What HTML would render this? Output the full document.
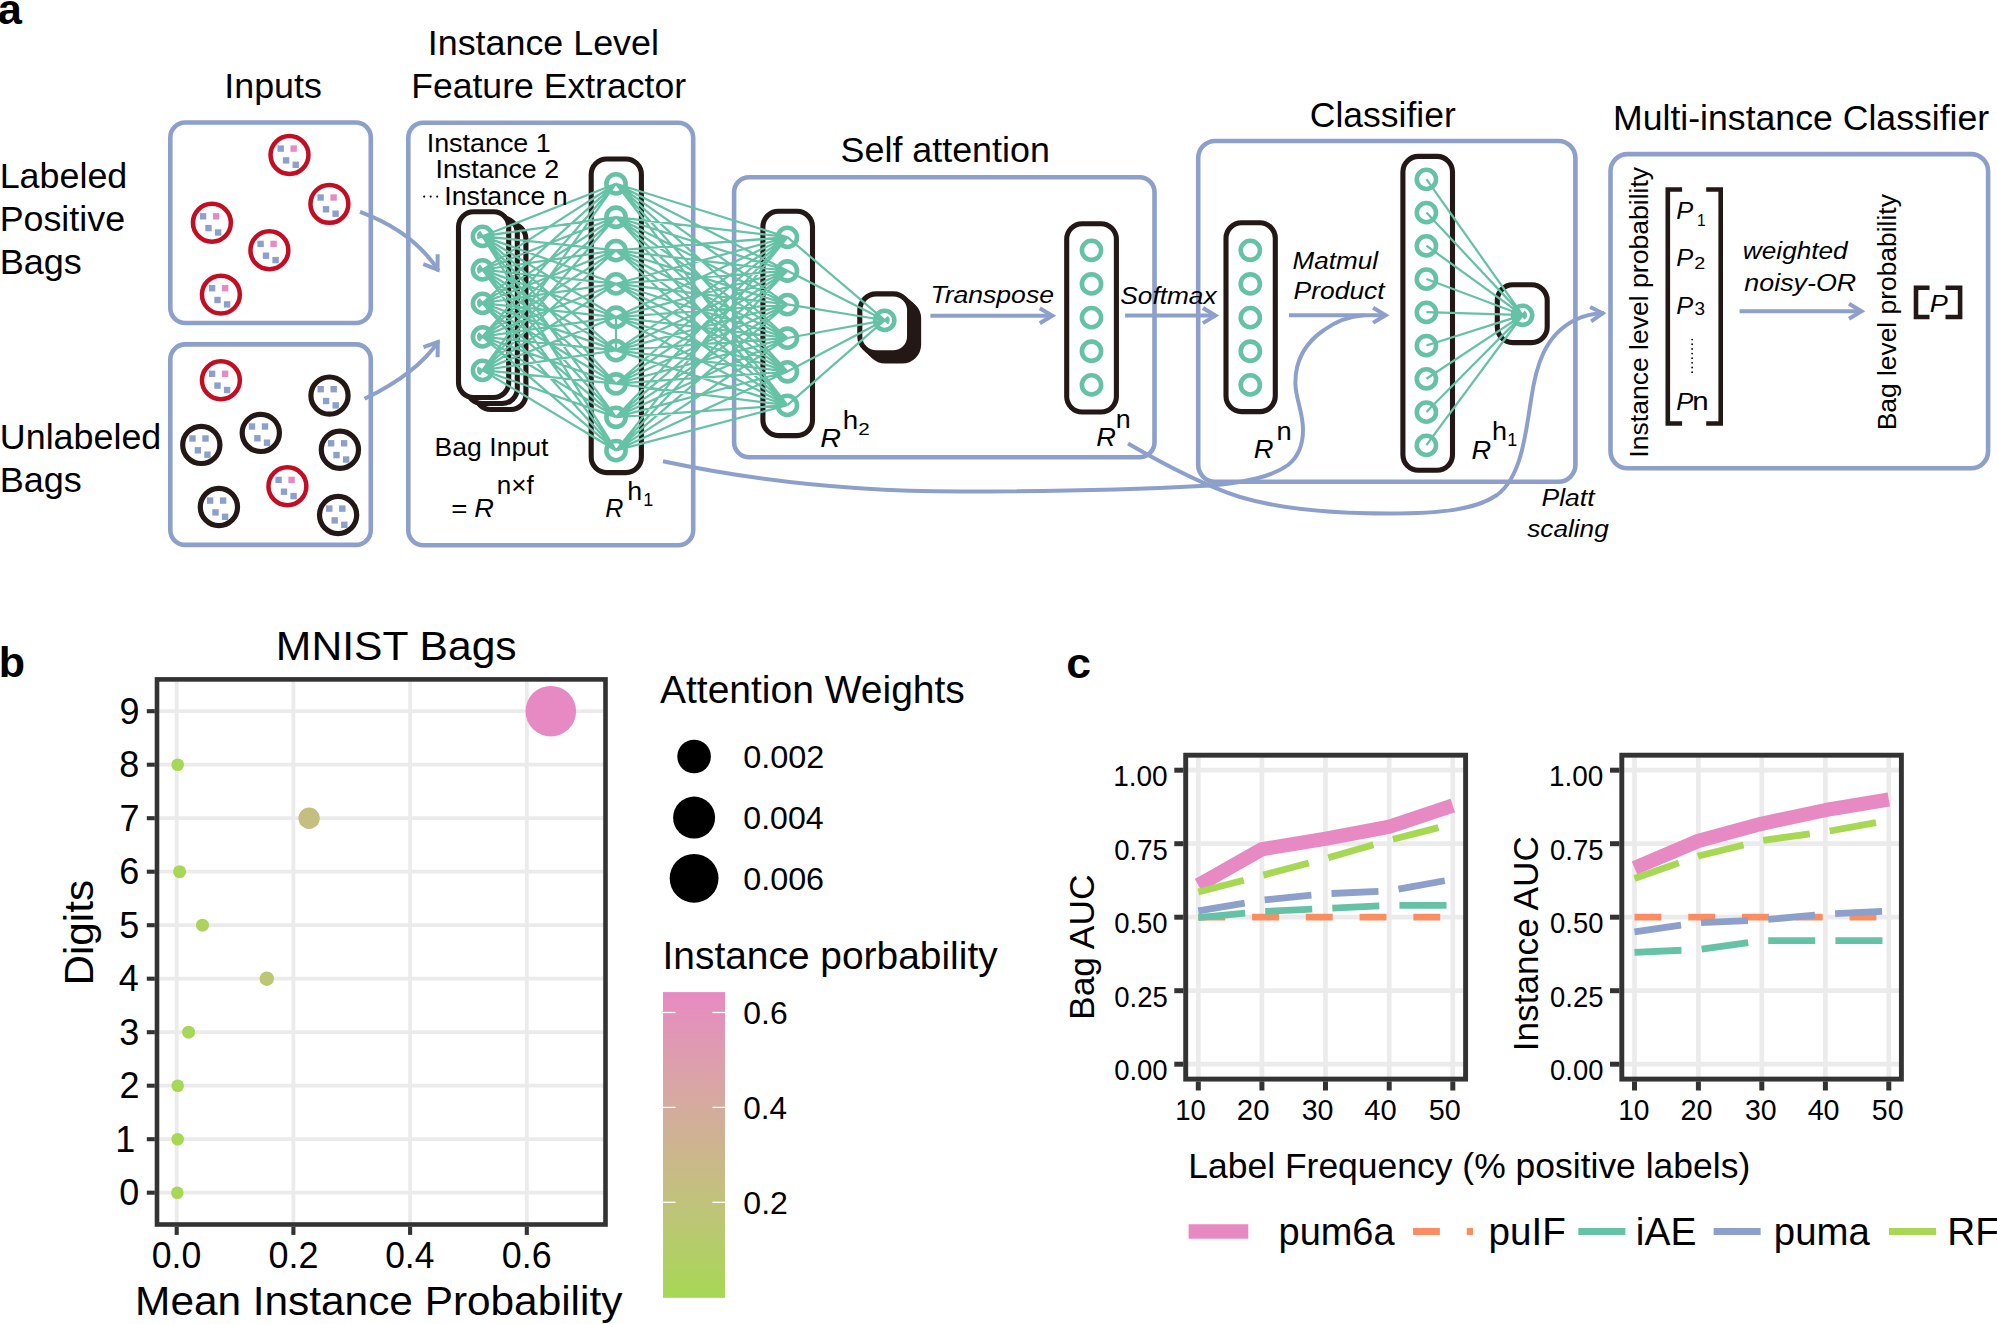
<!DOCTYPE html>
<html lang="en"><head><meta charset="utf-8"><title>Figure</title>
<style>html,body{margin:0;padding:0;background:#fff;overflow:hidden}svg{display:block}svg text{font-family:"Liberation Sans",sans-serif}</style></head>
<body>
<svg width="1997" height="1324" viewBox="0 0 1997 1324" role="img" aria-label="Figure: pum6a model architecture, MNIST bags attention plot and AUC comparison">
<rect width="1997" height="1324" fill="#fff"/>
<g id="panel-a">
<text x="-2.3" y="23.9" font-size="43.4" font-weight="bold" fill="#000">a</text>
<text x="224.29" y="97.8" font-size="34.8" textLength="97.54" lengthAdjust="spacingAndGlyphs" fill="#000">Inputs</text>
<text x="-0.36" y="188" font-size="34.8" textLength="127.66" lengthAdjust="spacingAndGlyphs" fill="#000">Labeled</text>
<text x="-0.36" y="231" font-size="34.8" textLength="125.43" lengthAdjust="spacingAndGlyphs" fill="#000">Positive</text>
<text x="-0.37" y="273.6" font-size="34.8" textLength="82.11" lengthAdjust="spacingAndGlyphs" fill="#000">Bags</text>
<text x="-0.18" y="449.3" font-size="34.8" textLength="161.46" lengthAdjust="spacingAndGlyphs" fill="#000">Unlabeled</text>
<text x="-0.37" y="492.3" font-size="34.8" textLength="82.11" lengthAdjust="spacingAndGlyphs" fill="#000">Bags</text>
<text x="427.79" y="55" font-size="34.8" textLength="231.1" lengthAdjust="spacingAndGlyphs" fill="#000">Instance Level</text>
<text x="411.16" y="97.5" font-size="34.8" textLength="274.88" lengthAdjust="spacingAndGlyphs" fill="#000">Feature Extractor</text>
<text x="840.59" y="161.7" font-size="34.8" textLength="209.26" lengthAdjust="spacingAndGlyphs" fill="#000">Self attention</text>
<text x="1309.83" y="126.5" font-size="34.8" textLength="145.89" lengthAdjust="spacingAndGlyphs" fill="#000">Classifier</text>
<text x="1613.06" y="129.5" font-size="34.8" textLength="376.12" lengthAdjust="spacingAndGlyphs" fill="#000">Multi-instance Classifier</text>
<rect x="170.3" y="122.5" width="200.5" height="200.5" rx="15" ry="15" fill="none" stroke="#8DA0CB" stroke-width="4.6"/>
<rect x="170.3" y="344.4" width="200.5" height="200.5" rx="15" ry="15" fill="none" stroke="#8DA0CB" stroke-width="4.6"/>
<rect x="408.3" y="122.7" width="284.9" height="422.6" rx="15" ry="15" fill="none" stroke="#8DA0CB" stroke-width="4.6"/>
<rect x="734.1" y="177.2" width="420.4" height="280" rx="15" ry="15" fill="none" stroke="#8DA0CB" stroke-width="4.6"/>
<rect x="1198.2" y="141" width="377.2" height="340.8" rx="17" ry="17" fill="none" stroke="#8DA0CB" stroke-width="4.6"/>
<rect x="1610.5" y="154.1" width="377.6" height="314.2" rx="17" ry="17" fill="none" stroke="#8DA0CB" stroke-width="4.6"/>
<circle cx="289.5" cy="155" r="18.95" fill="none" stroke="#C30D23" stroke-width="4.5"/>
<rect x="277.5" y="145.4" width="6.4" height="6.4" fill="#8DA0CB"/>
<rect x="290.5" y="145.4" width="6.4" height="6.4" fill="#E78AC3"/>
<rect x="282.9" y="157.2" width="6.4" height="6.4" fill="#8DA0CB"/>
<rect x="292.5" y="161.6" width="6.4" height="6.4" fill="#8DA0CB"/>
<circle cx="329.4" cy="203.9" r="18.95" fill="none" stroke="#C30D23" stroke-width="4.5"/>
<rect x="317.4" y="194.3" width="6.4" height="6.4" fill="#8DA0CB"/>
<rect x="330.4" y="194.3" width="6.4" height="6.4" fill="#E78AC3"/>
<rect x="322.8" y="206.1" width="6.4" height="6.4" fill="#8DA0CB"/>
<rect x="332.4" y="210.5" width="6.4" height="6.4" fill="#8DA0CB"/>
<circle cx="211.9" cy="222.7" r="18.95" fill="none" stroke="#C30D23" stroke-width="4.5"/>
<rect x="199.9" y="213.1" width="6.4" height="6.4" fill="#8DA0CB"/>
<rect x="212.9" y="213.1" width="6.4" height="6.4" fill="#E78AC3"/>
<rect x="205.3" y="224.9" width="6.4" height="6.4" fill="#8DA0CB"/>
<rect x="214.9" y="229.3" width="6.4" height="6.4" fill="#8DA0CB"/>
<circle cx="269.4" cy="250.3" r="18.95" fill="none" stroke="#C30D23" stroke-width="4.5"/>
<rect x="257.4" y="240.7" width="6.4" height="6.4" fill="#8DA0CB"/>
<rect x="270.4" y="240.7" width="6.4" height="6.4" fill="#E78AC3"/>
<rect x="262.8" y="252.5" width="6.4" height="6.4" fill="#8DA0CB"/>
<rect x="272.4" y="256.9" width="6.4" height="6.4" fill="#8DA0CB"/>
<circle cx="220.9" cy="294.6" r="18.95" fill="none" stroke="#C30D23" stroke-width="4.5"/>
<rect x="208.9" y="285" width="6.4" height="6.4" fill="#8DA0CB"/>
<rect x="221.9" y="285" width="6.4" height="6.4" fill="#E78AC3"/>
<rect x="214.3" y="296.8" width="6.4" height="6.4" fill="#8DA0CB"/>
<rect x="223.9" y="301.2" width="6.4" height="6.4" fill="#8DA0CB"/>
<circle cx="220.9" cy="380.2" r="18.95" fill="none" stroke="#C30D23" stroke-width="4.5"/>
<rect x="208.9" y="370.6" width="6.4" height="6.4" fill="#8DA0CB"/>
<rect x="221.9" y="370.6" width="6.4" height="6.4" fill="#E78AC3"/>
<rect x="214.3" y="382.4" width="6.4" height="6.4" fill="#8DA0CB"/>
<rect x="223.9" y="386.8" width="6.4" height="6.4" fill="#8DA0CB"/>
<circle cx="287.4" cy="486.3" r="18.95" fill="none" stroke="#C30D23" stroke-width="4.5"/>
<rect x="275.4" y="476.7" width="6.4" height="6.4" fill="#8DA0CB"/>
<rect x="288.4" y="476.7" width="6.4" height="6.4" fill="#E78AC3"/>
<rect x="280.8" y="488.5" width="6.4" height="6.4" fill="#8DA0CB"/>
<rect x="290.4" y="492.9" width="6.4" height="6.4" fill="#8DA0CB"/>
<circle cx="329.5" cy="395.6" r="18.6" fill="none" stroke="#231815" stroke-width="5.2"/>
<rect x="317.5" y="386" width="6.4" height="6.4" fill="#8DA0CB"/>
<rect x="330.5" y="386" width="6.4" height="6.4" fill="#8DA0CB"/>
<rect x="322.9" y="397.8" width="6.4" height="6.4" fill="#8DA0CB"/>
<rect x="332.5" y="402.2" width="6.4" height="6.4" fill="#8DA0CB"/>
<circle cx="201.3" cy="444.9" r="18.6" fill="none" stroke="#231815" stroke-width="5.2"/>
<rect x="189.3" y="435.3" width="6.4" height="6.4" fill="#8DA0CB"/>
<rect x="202.3" y="435.3" width="6.4" height="6.4" fill="#8DA0CB"/>
<rect x="194.7" y="447.1" width="6.4" height="6.4" fill="#8DA0CB"/>
<rect x="204.3" y="451.5" width="6.4" height="6.4" fill="#8DA0CB"/>
<circle cx="260.8" cy="432.9" r="18.6" fill="none" stroke="#231815" stroke-width="5.2"/>
<rect x="248.8" y="423.3" width="6.4" height="6.4" fill="#8DA0CB"/>
<rect x="261.8" y="423.3" width="6.4" height="6.4" fill="#8DA0CB"/>
<rect x="254.2" y="435.1" width="6.4" height="6.4" fill="#8DA0CB"/>
<rect x="263.8" y="439.5" width="6.4" height="6.4" fill="#8DA0CB"/>
<circle cx="339.9" cy="449.7" r="18.6" fill="none" stroke="#231815" stroke-width="5.2"/>
<rect x="327.9" y="440.1" width="6.4" height="6.4" fill="#8DA0CB"/>
<rect x="340.9" y="440.1" width="6.4" height="6.4" fill="#8DA0CB"/>
<rect x="333.3" y="451.9" width="6.4" height="6.4" fill="#8DA0CB"/>
<rect x="342.9" y="456.3" width="6.4" height="6.4" fill="#8DA0CB"/>
<circle cx="218.9" cy="507" r="18.6" fill="none" stroke="#231815" stroke-width="5.2"/>
<rect x="206.9" y="497.4" width="6.4" height="6.4" fill="#8DA0CB"/>
<rect x="219.9" y="497.4" width="6.4" height="6.4" fill="#8DA0CB"/>
<rect x="212.3" y="509.2" width="6.4" height="6.4" fill="#8DA0CB"/>
<rect x="221.9" y="513.6" width="6.4" height="6.4" fill="#8DA0CB"/>
<circle cx="338.1" cy="515" r="18.6" fill="none" stroke="#231815" stroke-width="5.2"/>
<rect x="326.1" y="505.4" width="6.4" height="6.4" fill="#8DA0CB"/>
<rect x="339.1" y="505.4" width="6.4" height="6.4" fill="#8DA0CB"/>
<rect x="331.5" y="517.2" width="6.4" height="6.4" fill="#8DA0CB"/>
<rect x="341.1" y="521.6" width="6.4" height="6.4" fill="#8DA0CB"/>
<path d="M360,211.8 Q413.2,231.3 438.6,270.8" fill="none" stroke="#8DA0CB" stroke-width="4"/>
<path d="M423.29,264.2 L437.53,269.53 L437.66,254.33" fill="none" stroke="#8DA0CB" stroke-width="4" stroke-linejoin="miter" stroke-miterlimit="10"/>
<path d="M364.6,398.8 Q417.3,373.2 438.8,340.8" fill="none" stroke="#8DA0CB" stroke-width="4"/>
<path d="M437.64,357.24 L437.78,342.04 L423.45,347.11" fill="none" stroke="#8DA0CB" stroke-width="4" stroke-linejoin="miter" stroke-miterlimit="10"/>
<rect x="475.7" y="223.8" width="50.2" height="185.7" rx="15" ry="15" fill="#fff" stroke="#231815" stroke-width="5.1"/>
<rect x="467.1" y="217.8" width="50.2" height="185.7" rx="15" ry="15" fill="#fff" stroke="#231815" stroke-width="5.1"/>
<rect x="458.5" y="211.8" width="50.2" height="185.7" rx="15" ry="15" fill="#fff" stroke="#231815" stroke-width="5.1"/>
<rect x="591.2" y="159" width="50.2" height="313.6" rx="15.5" ry="15.5" fill="#fff" stroke="#231815" stroke-width="5.1"/>
<rect x="762.9" y="211.3" width="49.6" height="224.3" rx="15.5" ry="15.5" fill="#fff" stroke="#231815" stroke-width="5.1"/>
<rect x="868.8" y="302" width="49.8" height="59" rx="16.5" ry="16.5" fill="#fff" stroke="#231815" stroke-width="5.1"/>
<rect x="865.8" y="299.3" width="49.8" height="59" rx="16.5" ry="16.5" fill="#fff" stroke="#231815" stroke-width="5.1"/>
<rect x="862.8" y="296.6" width="49.8" height="59" rx="16.5" ry="16.5" fill="#fff" stroke="#231815" stroke-width="5.1"/>
<rect x="859.8" y="293.9" width="49.8" height="59" rx="16.5" ry="16.5" fill="#fff" stroke="#231815" stroke-width="5.1"/>
<rect x="1066.7" y="223.7" width="49.7" height="188.3" rx="15.5" ry="15.5" fill="#fff" stroke="#231815" stroke-width="5.1"/>
<rect x="1226" y="222.8" width="49.3" height="188.8" rx="15.5" ry="15.5" fill="#fff" stroke="#231815" stroke-width="5.1"/>
<rect x="1402.9" y="156.4" width="49.6" height="313.9" rx="15.5" ry="15.5" fill="#fff" stroke="#231815" stroke-width="5.1"/>
<rect x="1497.3" y="284.8" width="49.9" height="57.8" rx="15.5" ry="15.5" fill="#fff" stroke="#231815" stroke-width="5.1"/>
<path d="M477.38,238.21L616,183.7M477.06,236.98L616,217.04M477.03,235.62L616,250.38M477.32,234.36L616,283.72M477.8,233.35L616,317.06M478.32,232.62L616,350.4M478.81,232.12L616,383.74M479.23,231.77L616,417.08M479.59,231.53L616,450.42M477.88,272.68L616,183.7M477.38,271.72L616,217.04M477.06,270.49L616,250.38M477.03,269.13L616,283.72M477.32,267.86L616,317.06M477.79,266.85L616,350.4M478.32,266.13L616,383.74M478.81,265.62L616,417.08M479.23,265.28L616,450.42M478.4,306.87L616,183.7M477.88,306.18L616,217.04M477.39,305.22L616,250.38M477.06,303.99L616,283.72M477.03,302.63L616,317.06M477.31,301.37L616,350.4M477.79,300.36L616,383.74M478.32,299.63L616,417.08M478.81,299.13L616,450.42M478.88,340.84L616,183.7M478.4,340.37L616,217.04M477.88,339.69L616,250.38M477.39,338.73L616,283.72M477.06,337.5L616,317.06M477.03,336.14L616,350.4M477.31,334.87L616,383.74M477.79,333.86L616,417.08M478.31,333.13L616,450.42M479.3,374.67L616,183.7M478.89,374.35L616,217.04M478.41,373.87L616,250.38M477.88,373.19L616,283.72M477.39,372.23L616,317.06M477.06,371.01L616,350.4M477.03,369.65L616,383.74M477.31,368.38L616,417.08M477.79,367.37L616,450.42M616,183.7L787.4,237.2M616,183.7L787.4,270.8M616,183.7L787.4,304.4M616,183.7L787.4,338M616,183.7L787.4,371.6M616,183.7L787.4,405.2M616,217.04L787.4,237.2M616,217.04L787.4,270.8M616,217.04L787.4,304.4M616,217.04L787.4,338M616,217.04L787.4,371.6M616,217.04L787.4,405.2M616,250.38L787.4,237.2M616,250.38L787.4,270.8M616,250.38L787.4,304.4M616,250.38L787.4,338M616,250.38L787.4,371.6M616,250.38L787.4,405.2M616,283.72L787.4,237.2M616,283.72L787.4,270.8M616,283.72L787.4,304.4M616,283.72L787.4,338M616,283.72L787.4,371.6M616,283.72L787.4,405.2M616,317.06L787.4,237.2M616,317.06L787.4,270.8M616,317.06L787.4,304.4M616,317.06L787.4,338M616,317.06L787.4,371.6M616,317.06L787.4,405.2M616,350.4L787.4,237.2M616,350.4L787.4,270.8M616,350.4L787.4,304.4M616,350.4L787.4,338M616,350.4L787.4,371.6M616,350.4L787.4,405.2M616,383.74L787.4,237.2M616,383.74L787.4,270.8M616,383.74L787.4,304.4M616,383.74L787.4,338M616,383.74L787.4,371.6M616,383.74L787.4,405.2M616,417.08L787.4,237.2M616,417.08L787.4,270.8M616,417.08L787.4,304.4M616,417.08L787.4,338M616,417.08L787.4,371.6M616,417.08L787.4,405.2M616,450.42L787.4,237.2M616,450.42L787.4,270.8M616,450.42L787.4,304.4M616,450.42L787.4,338M616,450.42L787.4,371.6M616,450.42L787.4,405.2M787.4,237.2L888.5,323.44M787.4,270.8L889.16,322.46M787.4,304.4L889.64,321M787.4,338L889.62,319.3M787.4,371.6L889.12,317.86M787.4,405.2L888.47,316.91M1426.4,179.2L1525.2,318.77M1426.4,212.45L1525.68,318.38M1426.4,245.7L1526.25,317.73M1426.4,278.95L1526.81,316.68M1426.4,312.2L1527.1,315.24M1426.4,345.45L1526.89,313.75M1426.4,378.7L1526.35,312.62M1426.4,411.95L1525.77,311.91M1426.4,445.2L1525.28,311.48M616,317.06L616,350.4" fill="none" stroke="#66C2A5" stroke-width="2.25"/>
<circle cx="482.5" cy="236.4" r="9.6" fill="none" stroke="#66C2A5" stroke-width="4.6"/>
<circle cx="482.5" cy="269.9" r="9.6" fill="none" stroke="#66C2A5" stroke-width="4.6"/>
<circle cx="482.5" cy="303.4" r="9.6" fill="none" stroke="#66C2A5" stroke-width="4.6"/>
<circle cx="482.5" cy="336.9" r="9.6" fill="none" stroke="#66C2A5" stroke-width="4.6"/>
<circle cx="482.5" cy="370.4" r="9.6" fill="none" stroke="#66C2A5" stroke-width="4.6"/>
<circle cx="616" cy="183.9" r="9.6" fill="none" stroke="#66C2A5" stroke-width="4.6"/>
<circle cx="616" cy="217.24" r="9.6" fill="none" stroke="#66C2A5" stroke-width="4.6"/>
<circle cx="616" cy="250.58" r="9.6" fill="none" stroke="#66C2A5" stroke-width="4.6"/>
<circle cx="616" cy="283.92" r="9.6" fill="none" stroke="#66C2A5" stroke-width="4.6"/>
<circle cx="616" cy="317.26" r="9.6" fill="none" stroke="#66C2A5" stroke-width="4.6"/>
<circle cx="616" cy="350.6" r="9.6" fill="none" stroke="#66C2A5" stroke-width="4.6"/>
<circle cx="616" cy="383.94" r="9.6" fill="none" stroke="#66C2A5" stroke-width="4.6"/>
<circle cx="616" cy="417.28" r="9.6" fill="none" stroke="#66C2A5" stroke-width="4.6"/>
<circle cx="616" cy="450.62" r="9.6" fill="none" stroke="#66C2A5" stroke-width="4.6"/>
<circle cx="787.4" cy="237.4" r="9.6" fill="none" stroke="#66C2A5" stroke-width="4.6"/>
<circle cx="787.4" cy="271" r="9.6" fill="none" stroke="#66C2A5" stroke-width="4.6"/>
<circle cx="787.4" cy="304.6" r="9.6" fill="none" stroke="#66C2A5" stroke-width="4.6"/>
<circle cx="787.4" cy="338.2" r="9.6" fill="none" stroke="#66C2A5" stroke-width="4.6"/>
<circle cx="787.4" cy="371.8" r="9.6" fill="none" stroke="#66C2A5" stroke-width="4.6"/>
<circle cx="787.4" cy="405.4" r="9.6" fill="none" stroke="#66C2A5" stroke-width="4.6"/>
<circle cx="884.7" cy="320.4" r="9.6" fill="none" stroke="#66C2A5" stroke-width="4.6"/>
<circle cx="1091.5" cy="250.3" r="9.6" fill="none" stroke="#66C2A5" stroke-width="4.6"/>
<circle cx="1091.5" cy="283.95" r="9.6" fill="none" stroke="#66C2A5" stroke-width="4.6"/>
<circle cx="1091.5" cy="317.6" r="9.6" fill="none" stroke="#66C2A5" stroke-width="4.6"/>
<circle cx="1091.5" cy="351.25" r="9.6" fill="none" stroke="#66C2A5" stroke-width="4.6"/>
<circle cx="1091.5" cy="384.9" r="9.6" fill="none" stroke="#66C2A5" stroke-width="4.6"/>
<circle cx="1250.3" cy="250.3" r="9.6" fill="none" stroke="#66C2A5" stroke-width="4.6"/>
<circle cx="1250.3" cy="283.95" r="9.6" fill="none" stroke="#66C2A5" stroke-width="4.6"/>
<circle cx="1250.3" cy="317.6" r="9.6" fill="none" stroke="#66C2A5" stroke-width="4.6"/>
<circle cx="1250.3" cy="351.25" r="9.6" fill="none" stroke="#66C2A5" stroke-width="4.6"/>
<circle cx="1250.3" cy="384.9" r="9.6" fill="none" stroke="#66C2A5" stroke-width="4.6"/>
<circle cx="1426.4" cy="179.4" r="9.6" fill="none" stroke="#66C2A5" stroke-width="4.6"/>
<circle cx="1426.4" cy="212.65" r="9.6" fill="none" stroke="#66C2A5" stroke-width="4.6"/>
<circle cx="1426.4" cy="245.9" r="9.6" fill="none" stroke="#66C2A5" stroke-width="4.6"/>
<circle cx="1426.4" cy="279.15" r="9.6" fill="none" stroke="#66C2A5" stroke-width="4.6"/>
<circle cx="1426.4" cy="312.4" r="9.6" fill="none" stroke="#66C2A5" stroke-width="4.6"/>
<circle cx="1426.4" cy="345.65" r="9.6" fill="none" stroke="#66C2A5" stroke-width="4.6"/>
<circle cx="1426.4" cy="378.9" r="9.6" fill="none" stroke="#66C2A5" stroke-width="4.6"/>
<circle cx="1426.4" cy="412.15" r="9.6" fill="none" stroke="#66C2A5" stroke-width="4.6"/>
<circle cx="1426.4" cy="445.4" r="9.6" fill="none" stroke="#66C2A5" stroke-width="4.6"/>
<circle cx="1522.6" cy="315.3" r="9.6" fill="none" stroke="#66C2A5" stroke-width="4.6"/>
<line x1="930.4" y1="315.7" x2="1051.7" y2="315.7" stroke="#8DA0CB" stroke-width="4"/>
<path d="M1039.8,323.22 L1052.32,315.7 L1039.8,308.18" fill="none" stroke="#8DA0CB" stroke-width="4" stroke-linejoin="miter" stroke-miterlimit="10"/>
<line x1="1125.1" y1="315.6" x2="1214.8" y2="315.6" stroke="#8DA0CB" stroke-width="4"/>
<path d="M1202.9,323.12 L1215.42,315.6 L1202.9,308.08" fill="none" stroke="#8DA0CB" stroke-width="4" stroke-linejoin="miter" stroke-miterlimit="10"/>
<line x1="1289" y1="315.2" x2="1385" y2="315.2" stroke="#8DA0CB" stroke-width="4"/>
<path d="M1373.1,322.72 L1385.62,315.2 L1373.1,307.68" fill="none" stroke="#8DA0CB" stroke-width="4" stroke-linejoin="miter" stroke-miterlimit="10"/>
<line x1="1739.6" y1="311.3" x2="1860.9" y2="311.3" stroke="#8DA0CB" stroke-width="4"/>
<path d="M1849,318.82 L1861.52,311.3 L1849,303.78" fill="none" stroke="#8DA0CB" stroke-width="4" stroke-linejoin="miter" stroke-miterlimit="10"/>
<path d="M663,461.2 C760,482 860,491.5 960,491.5 C1040,491.5 1130,490 1200,486 C1240,484 1270,478 1288,465 C1298,457 1303,445 1303,430 C1303,412 1296,400 1295.4,384 C1295,362 1305,343 1324,330 C1335,322 1348,316.5 1364,315.3" fill="none" stroke="#8DA0CB" stroke-width="4"/>
<path d="M1128,443.4 C1160,462 1200,484 1240,497 C1280,509 1330,513.5 1390,513.5 C1440,513.5 1475,510 1497,495 C1520,478 1525,440 1531,400 C1536,365 1545,335 1575,320 C1585,315 1595,313.5 1604,313.1" fill="none" stroke="#8DA0CB" stroke-width="4"/>
<path d="M1591.16,321.3 L1602.63,313.27 L1590.15,306.92" fill="none" stroke="#8DA0CB" stroke-width="4" stroke-linejoin="miter" stroke-miterlimit="10"/>
<text x="426.71" y="151.8" font-size="25.3" textLength="124.01" lengthAdjust="spacingAndGlyphs" fill="#000">Instance 1</text>
<text x="435.52" y="177.6" font-size="25.3" textLength="123.57" lengthAdjust="spacingAndGlyphs" fill="#000">Instance 2</text>
<text x="444.33" y="205" font-size="25.3" textLength="123.19" lengthAdjust="spacingAndGlyphs" fill="#000">Instance n</text>
<circle cx="424.2" cy="196.6" r="1.05" fill="#000" stroke="none" stroke-width="0"/>
<circle cx="430.7" cy="196.6" r="1.05" fill="#000" stroke="none" stroke-width="0"/>
<circle cx="437.2" cy="196.6" r="1.05" fill="#000" stroke="none" stroke-width="0"/>
<text x="434.61" y="455.9" font-size="25.3" textLength="113.73" lengthAdjust="spacingAndGlyphs" fill="#000">Bag Input</text>
<text x="451.28" y="516.8" font-size="25.3" textLength="16.17" lengthAdjust="spacingAndGlyphs" fill="#000">=</text>
<text x="474.38" y="516.8" font-size="26" font-style="italic" textLength="19.62" lengthAdjust="spacingAndGlyphs" fill="#000">R</text>
<text x="496.74" y="494.2" font-size="26" textLength="37.01" lengthAdjust="spacingAndGlyphs" fill="#000">n×f</text>
<text x="605.15" y="516.8" font-size="26" font-style="italic" textLength="18.1" lengthAdjust="spacingAndGlyphs" fill="#000">R</text>
<text x="627.33" y="500.2" font-size="25.5" textLength="14.88" lengthAdjust="spacingAndGlyphs" fill="#000">h</text>
<text x="643.2" y="505.9" font-size="18" fill="#000">1</text>
<text x="820.34" y="447.2" font-size="26" font-style="italic" textLength="20.71" lengthAdjust="spacingAndGlyphs" fill="#000">R</text>
<text x="842.66" y="428.6" font-size="25.5" textLength="15.4" lengthAdjust="spacingAndGlyphs" fill="#000">h</text>
<text x="858.27" y="434.6" font-size="16.5" textLength="11.49" lengthAdjust="spacingAndGlyphs" fill="#000">2</text>
<text x="1096.28" y="446.4" font-size="26" font-style="italic" textLength="19.62" lengthAdjust="spacingAndGlyphs" fill="#000">R</text>
<text x="1115.89" y="427.9" font-size="25.5" textLength="14.92" lengthAdjust="spacingAndGlyphs" fill="#000">n</text>
<text x="1253.88" y="458.4" font-size="26" font-style="italic" textLength="19.73" lengthAdjust="spacingAndGlyphs" fill="#000">R</text>
<text x="1276.56" y="439.8" font-size="25.5" textLength="15.18" lengthAdjust="spacingAndGlyphs" fill="#000">n</text>
<text x="1471.48" y="458.8" font-size="26" font-style="italic" textLength="19.62" lengthAdjust="spacingAndGlyphs" fill="#000">R</text>
<text x="1492.01" y="440.2" font-size="25.5" textLength="15.01" lengthAdjust="spacingAndGlyphs" fill="#000">h</text>
<text x="1507.2" y="445.8" font-size="18" fill="#000">1</text>
<text x="930.41" y="303.3" font-size="24.5" font-style="italic" textLength="123.53" lengthAdjust="spacingAndGlyphs" fill="#000">Transpose</text>
<text x="1120.38" y="303.8" font-size="24.5" font-style="italic" textLength="96.21" lengthAdjust="spacingAndGlyphs" fill="#000">Softmax</text>
<text x="1292.62" y="269.1" font-size="24.5" font-style="italic" textLength="85.32" lengthAdjust="spacingAndGlyphs" fill="#000">Matmul</text>
<text x="1293.61" y="299.1" font-size="24.5" font-style="italic" textLength="91" lengthAdjust="spacingAndGlyphs" fill="#000">Product</text>
<text x="1541.61" y="505.9" font-size="24.5" font-style="italic" textLength="52.9" lengthAdjust="spacingAndGlyphs" fill="#000">Platt</text>
<text x="1527.23" y="537.4" font-size="24.5" font-style="italic" textLength="81.47" lengthAdjust="spacingAndGlyphs" fill="#000">scaling</text>
<text x="1742.89" y="259.3" font-size="24.5" font-style="italic" textLength="104.8" lengthAdjust="spacingAndGlyphs" fill="#000">weighted</text>
<text x="1744.33" y="291.3" font-size="24.5" font-style="italic" textLength="111.88" lengthAdjust="spacingAndGlyphs" fill="#000">noisy-OR</text>
<text transform="translate(1648.1 455.2) rotate(-90)" x="-2.46" y="0" font-size="26.5" textLength="290.75" lengthAdjust="spacingAndGlyphs" fill="#000">Instance level probability</text>
<text transform="translate(1895.5 428.2) rotate(-90)" x="-2.18" y="0" font-size="26.3" textLength="236.24" lengthAdjust="spacingAndGlyphs" fill="#000">Bag level probability</text>
<path d="M1682.1,189.5 H1667.8 V423.5 H1682.1" fill="none" stroke="#231815" stroke-width="4.6"/>
<path d="M1706.2,189.5 H1720.7 V423.5 H1706.2" fill="none" stroke="#231815" stroke-width="4.6"/>
<path d="M1929.5,287.7 H1916 V317.0 H1929.5" fill="none" stroke="#231815" stroke-width="4.6"/>
<path d="M1945.5,287.7 H1960.1 V317.0 H1945.5" fill="none" stroke="#231815" stroke-width="4.6"/>
<text x="1929.69" y="312.4" font-size="24.5" font-style="italic" textLength="18" lengthAdjust="spacingAndGlyphs" fill="#000">P</text>
<text x="1676.34" y="219.2" font-size="24.5" font-style="italic" textLength="16.94" lengthAdjust="spacingAndGlyphs" fill="#000">P</text>
<text x="1676.34" y="266.3" font-size="24.5" font-style="italic" textLength="16.94" lengthAdjust="spacingAndGlyphs" fill="#000">P</text>
<text x="1676.34" y="314.4" font-size="24.5" font-style="italic" textLength="16.94" lengthAdjust="spacingAndGlyphs" fill="#000">P</text>
<text x="1676.34" y="409.8" font-size="24.5" font-style="italic" textLength="16.94" lengthAdjust="spacingAndGlyphs" fill="#000">P</text>
<text x="1697.11" y="225.8" font-size="15.6" fill="#000">1</text>
<text x="1694.21" y="269.3" font-size="17" textLength="11" lengthAdjust="spacingAndGlyphs" fill="#000">2</text>
<text x="1694.49" y="314.8" font-size="18.5" textLength="10.54" lengthAdjust="spacingAndGlyphs" fill="#000">3</text>
<text x="1692.31" y="409.8" font-size="25.5" textLength="16.36" lengthAdjust="spacingAndGlyphs" fill="#000">n</text>
<circle cx="1692.1" cy="339.6" r="0.9" fill="#000" stroke="none" stroke-width="0"/>
<circle cx="1692.1" cy="344.25" r="0.9" fill="#000" stroke="none" stroke-width="0"/>
<circle cx="1692.1" cy="348.9" r="0.9" fill="#000" stroke="none" stroke-width="0"/>
<circle cx="1692.1" cy="353.55" r="0.9" fill="#000" stroke="none" stroke-width="0"/>
<circle cx="1692.1" cy="358.2" r="0.9" fill="#000" stroke="none" stroke-width="0"/>
<circle cx="1692.1" cy="362.85" r="0.9" fill="#000" stroke="none" stroke-width="0"/>
<circle cx="1692.1" cy="367.5" r="0.9" fill="#000" stroke="none" stroke-width="0"/>
<circle cx="1692.1" cy="372.15" r="0.9" fill="#000" stroke="none" stroke-width="0"/>
</g>
<g id="panel-b">
<text x="-1.19" y="676.7" font-size="43" font-weight="bold" fill="#000">b</text>
<text x="275.88" y="659.7" font-size="41" textLength="240.81" lengthAdjust="spacingAndGlyphs" fill="#000">MNIST Bags</text>
<rect x="157" y="679.4" width="448.5" height="545.1" fill="#fff"/>
<line x1="176.7" y1="679.4" x2="176.7" y2="1224.5" stroke="#EBEBEB" stroke-width="3.8"/>
<line x1="293.4" y1="679.4" x2="293.4" y2="1224.5" stroke="#EBEBEB" stroke-width="3.8"/>
<line x1="410.1" y1="679.4" x2="410.1" y2="1224.5" stroke="#EBEBEB" stroke-width="3.8"/>
<line x1="526.8" y1="679.4" x2="526.8" y2="1224.5" stroke="#EBEBEB" stroke-width="3.8"/>
<line x1="157" y1="711.2" x2="605.5" y2="711.2" stroke="#EBEBEB" stroke-width="3.8"/>
<line x1="157" y1="764.7" x2="605.5" y2="764.7" stroke="#EBEBEB" stroke-width="3.8"/>
<line x1="157" y1="818.2" x2="605.5" y2="818.2" stroke="#EBEBEB" stroke-width="3.8"/>
<line x1="157" y1="871.7" x2="605.5" y2="871.7" stroke="#EBEBEB" stroke-width="3.8"/>
<line x1="157" y1="925.2" x2="605.5" y2="925.2" stroke="#EBEBEB" stroke-width="3.8"/>
<line x1="157" y1="978.7" x2="605.5" y2="978.7" stroke="#EBEBEB" stroke-width="3.8"/>
<line x1="157" y1="1032.2" x2="605.5" y2="1032.2" stroke="#EBEBEB" stroke-width="3.8"/>
<line x1="157" y1="1085.7" x2="605.5" y2="1085.7" stroke="#EBEBEB" stroke-width="3.8"/>
<line x1="157" y1="1139.2" x2="605.5" y2="1139.2" stroke="#EBEBEB" stroke-width="3.8"/>
<line x1="157" y1="1192.7" x2="605.5" y2="1192.7" stroke="#EBEBEB" stroke-width="3.8"/>
<circle cx="550.8" cy="711.2" r="25.3" fill="#E78AC3" stroke="none" stroke-width="0"/>
<circle cx="177.7" cy="764.7" r="6.3" fill="#A6D854" stroke="none" stroke-width="0"/>
<circle cx="309.1" cy="818.2" r="10.7" fill="#C4BF80" stroke="none" stroke-width="0"/>
<circle cx="179.6" cy="871.7" r="6.5" fill="#A7D755" stroke="none" stroke-width="0"/>
<circle cx="202.5" cy="925.2" r="6.5" fill="#ADD35E" stroke="none" stroke-width="0"/>
<circle cx="266.8" cy="978.7" r="7.2" fill="#BBC773" stroke="none" stroke-width="0"/>
<circle cx="188.6" cy="1032.2" r="6.5" fill="#A9D659" stroke="none" stroke-width="0"/>
<circle cx="177.7" cy="1085.7" r="6.3" fill="#A6D854" stroke="none" stroke-width="0"/>
<circle cx="177.7" cy="1139.2" r="6.3" fill="#A6D854" stroke="none" stroke-width="0"/>
<circle cx="177.3" cy="1192.7" r="6.3" fill="#A6D854" stroke="none" stroke-width="0"/>
<rect x="157" y="679.4" width="448.5" height="545.1" fill="none" stroke="#333333" stroke-width="4.6"/>
<line x1="146.8" y1="711.2" x2="154.8" y2="711.2" stroke="#333333" stroke-width="4.1"/>
<line x1="146.8" y1="764.7" x2="154.8" y2="764.7" stroke="#333333" stroke-width="4.1"/>
<line x1="146.8" y1="818.2" x2="154.8" y2="818.2" stroke="#333333" stroke-width="4.1"/>
<line x1="146.8" y1="871.7" x2="154.8" y2="871.7" stroke="#333333" stroke-width="4.1"/>
<line x1="146.8" y1="925.2" x2="154.8" y2="925.2" stroke="#333333" stroke-width="4.1"/>
<line x1="146.8" y1="978.7" x2="154.8" y2="978.7" stroke="#333333" stroke-width="4.1"/>
<line x1="146.8" y1="1032.2" x2="154.8" y2="1032.2" stroke="#333333" stroke-width="4.1"/>
<line x1="146.8" y1="1085.7" x2="154.8" y2="1085.7" stroke="#333333" stroke-width="4.1"/>
<line x1="146.8" y1="1139.2" x2="154.8" y2="1139.2" stroke="#333333" stroke-width="4.1"/>
<line x1="146.8" y1="1192.7" x2="154.8" y2="1192.7" stroke="#333333" stroke-width="4.1"/>
<line x1="176.7" y1="1226.7" x2="176.7" y2="1234.9" stroke="#333333" stroke-width="4.1"/>
<line x1="293.4" y1="1226.7" x2="293.4" y2="1234.9" stroke="#333333" stroke-width="4.1"/>
<line x1="410.1" y1="1226.7" x2="410.1" y2="1234.9" stroke="#333333" stroke-width="4.1"/>
<line x1="526.8" y1="1226.7" x2="526.8" y2="1234.9" stroke="#333333" stroke-width="4.1"/>
<text x="119.44" y="723.9" font-size="36" fill="#000">9</text>
<text x="119.35" y="777.4" font-size="36" fill="#000">8</text>
<text x="119.62" y="830.9" font-size="36" fill="#000">7</text>
<text x="119.35" y="884.4" font-size="36" fill="#000">6</text>
<text x="119.26" y="937.9" font-size="36" fill="#000">5</text>
<text x="118.81" y="991.4" font-size="36" fill="#000">4</text>
<text x="119.35" y="1044.9" font-size="36" fill="#000">3</text>
<text x="119.62" y="1098.4" font-size="36" fill="#000">2</text>
<text x="115.23" y="1151.9" font-size="36" fill="#000">1</text>
<text x="119.17" y="1205.4" font-size="36" fill="#000">0</text>
<text x="151.77" y="1268.2" font-size="36" textLength="49.57" lengthAdjust="spacingAndGlyphs" fill="#000">0.0</text>
<text x="268.46" y="1268.2" font-size="36" textLength="50.05" lengthAdjust="spacingAndGlyphs" fill="#000">0.2</text>
<text x="385.18" y="1268.2" font-size="36" textLength="49.2" lengthAdjust="spacingAndGlyphs" fill="#000">0.4</text>
<text x="501.87" y="1268.2" font-size="36" textLength="49.76" lengthAdjust="spacingAndGlyphs" fill="#000">0.6</text>
<text x="135.11" y="1315" font-size="41" textLength="487.27" lengthAdjust="spacingAndGlyphs" fill="#000">Mean Instance Probability</text>
<text transform="translate(92.8 982.1) rotate(-90)" x="-3.48" y="0" font-size="41" textLength="105.59" lengthAdjust="spacingAndGlyphs" fill="#000">Digits</text>
<text x="660" y="702.5" font-size="38" textLength="304.85" lengthAdjust="spacingAndGlyphs" fill="#000">Attention Weights</text>
<circle cx="694.1" cy="756.5" r="16.8" fill="#000" stroke="none" stroke-width="0"/>
<text x="743.31" y="768.2" font-size="31.3" textLength="81.01" lengthAdjust="spacingAndGlyphs" fill="#000">0.002</text>
<circle cx="694.1" cy="817.6" r="21" fill="#000" stroke="none" stroke-width="0"/>
<text x="743.32" y="829.3" font-size="31.3" textLength="80.27" lengthAdjust="spacingAndGlyphs" fill="#000">0.004</text>
<circle cx="694.1" cy="878.3" r="24.4" fill="#000" stroke="none" stroke-width="0"/>
<text x="743.31" y="890" font-size="31.3" textLength="80.76" lengthAdjust="spacingAndGlyphs" fill="#000">0.006</text>
<text x="662.5" y="969.1" font-size="38" textLength="335.16" lengthAdjust="spacingAndGlyphs" fill="#000">Instance porbability</text>
<defs><linearGradient id="cb" x1="0" y1="0" x2="0" y2="1"><stop offset="0" stop-color="#E78AC3"/><stop offset="0.1" stop-color="#E393B9"/><stop offset="0.2" stop-color="#DE9CAF"/><stop offset="0.3" stop-color="#D9A5A5"/><stop offset="0.4" stop-color="#D3AD9B"/><stop offset="0.5" stop-color="#CDB490"/><stop offset="0.6" stop-color="#C7BC85"/><stop offset="0.7" stop-color="#C0C37A"/><stop offset="0.8" stop-color="#B8CA6E"/><stop offset="0.9" stop-color="#AFD162"/><stop offset="1" stop-color="#A6D854"/></linearGradient></defs>
<rect x="663" y="992.1" width="62" height="305.7" fill="url(#cb)"/>
<line x1="663" y1="1012.5" x2="675.6" y2="1012.5" stroke="#fff" stroke-width="1.3"/>
<line x1="712.4" y1="1012.5" x2="725" y2="1012.5" stroke="#fff" stroke-width="1.3"/>
<text x="743.32" y="1023.8" font-size="31.3" textLength="44.34" lengthAdjust="spacingAndGlyphs" fill="#000">0.6</text>
<line x1="663" y1="1107.4" x2="675.6" y2="1107.4" stroke="#fff" stroke-width="1.3"/>
<line x1="712.4" y1="1107.4" x2="725" y2="1107.4" stroke="#fff" stroke-width="1.3"/>
<text x="743.34" y="1118.9" font-size="31.3" textLength="43.83" lengthAdjust="spacingAndGlyphs" fill="#000">0.4</text>
<line x1="663" y1="1202.3" x2="675.6" y2="1202.3" stroke="#fff" stroke-width="1.3"/>
<line x1="712.4" y1="1202.3" x2="725" y2="1202.3" stroke="#fff" stroke-width="1.3"/>
<text x="743.32" y="1213.5" font-size="31.3" textLength="44.59" lengthAdjust="spacingAndGlyphs" fill="#000">0.2</text>
</g>
<g id="panel-c">
<text x="1066.22" y="677.7" font-size="43" font-weight="bold" textLength="24.76" lengthAdjust="spacingAndGlyphs" fill="#000">c</text>
<rect x="1185.7" y="755.2" width="279.9" height="323.9" fill="#fff"/>
<line x1="1198.3" y1="755.2" x2="1198.3" y2="1079.1" stroke="#EBEBEB" stroke-width="4.7"/>
<line x1="1261.9" y1="755.2" x2="1261.9" y2="1079.1" stroke="#EBEBEB" stroke-width="4.7"/>
<line x1="1325.5" y1="755.2" x2="1325.5" y2="1079.1" stroke="#EBEBEB" stroke-width="4.7"/>
<line x1="1389.2" y1="755.2" x2="1389.2" y2="1079.1" stroke="#EBEBEB" stroke-width="4.7"/>
<line x1="1452.8" y1="755.2" x2="1452.8" y2="1079.1" stroke="#EBEBEB" stroke-width="4.7"/>
<line x1="1185.7" y1="770.2" x2="1465.6" y2="770.2" stroke="#EBEBEB" stroke-width="4.7"/>
<line x1="1185.7" y1="843.7" x2="1465.6" y2="843.7" stroke="#EBEBEB" stroke-width="4.7"/>
<line x1="1185.7" y1="917.2" x2="1465.6" y2="917.2" stroke="#EBEBEB" stroke-width="4.7"/>
<line x1="1185.7" y1="990.7" x2="1465.6" y2="990.7" stroke="#EBEBEB" stroke-width="4.7"/>
<line x1="1185.7" y1="1064.2" x2="1465.6" y2="1064.2" stroke="#EBEBEB" stroke-width="4.7"/>
<path d="M1198.3,885.2 L1261.9,849.2 L1325.5,838.7 L1389.2,826.7 L1452.8,805.6" fill="none" stroke="#E78AC3" stroke-width="14.2" stroke-linejoin="round"/>
<path d="M1198.3,917.1 L1261.9,917.1 L1325.5,917.1 L1389.2,917.1 L1452.8,917.1" fill="none" stroke="#FC8D62" stroke-width="6.8" stroke-dasharray="26.88 26.88" stroke-linejoin="round"/>
<path d="M1198.3,917.6 L1261.9,911.6 L1325.5,908.4 L1389.2,905.4 L1452.8,905.4" fill="none" stroke="#66C2A5" stroke-width="6.8" stroke-dasharray="47.04 20.16" stroke-linejoin="round"/>
<path d="M1198.3,910.8 L1261.9,900.2 L1325.5,893.8 L1389.2,890.8 L1452.8,879.3" fill="none" stroke="#8DA0CB" stroke-width="6.8" stroke-dasharray="47.04 20.16" stroke-linejoin="round"/>
<path d="M1198.3,892 L1261.9,875.5 L1325.5,858.5 L1389.2,840.2 L1452.8,824" fill="none" stroke="#A6D854" stroke-width="6.8" stroke-dasharray="47.04 20.16" stroke-linejoin="round"/>
<rect x="1185.7" y="755.2" width="279.9" height="323.9" fill="none" stroke="#333333" stroke-width="4.9"/>
<line x1="1174.3" y1="770.2" x2="1183.4" y2="770.2" stroke="#333333" stroke-width="5"/>
<text x="1113.2" y="786.1" font-size="29" textLength="54.49" lengthAdjust="spacingAndGlyphs" fill="#000">1.00</text>
<line x1="1174.3" y1="843.7" x2="1183.4" y2="843.7" stroke="#333333" stroke-width="5"/>
<text x="1114.2" y="859.6" font-size="29" textLength="53.54" lengthAdjust="spacingAndGlyphs" fill="#000">0.75</text>
<line x1="1174.3" y1="917.2" x2="1183.4" y2="917.2" stroke="#333333" stroke-width="5"/>
<text x="1114.2" y="933.1" font-size="29" textLength="53.47" lengthAdjust="spacingAndGlyphs" fill="#000">0.50</text>
<line x1="1174.3" y1="990.7" x2="1183.4" y2="990.7" stroke="#333333" stroke-width="5"/>
<text x="1114.2" y="1006.6" font-size="29" textLength="53.54" lengthAdjust="spacingAndGlyphs" fill="#000">0.25</text>
<line x1="1174.3" y1="1064.2" x2="1183.4" y2="1064.2" stroke="#333333" stroke-width="5"/>
<text x="1114.2" y="1080.1" font-size="29" textLength="53.47" lengthAdjust="spacingAndGlyphs" fill="#000">0.00</text>
<line x1="1198.3" y1="1081.4" x2="1198.3" y2="1090.5" stroke="#333333" stroke-width="5"/>
<text x="1175.14" y="1120.1" font-size="29" textLength="30.55" lengthAdjust="spacingAndGlyphs" fill="#000">10</text>
<line x1="1261.9" y1="1081.4" x2="1261.9" y2="1090.5" stroke="#333333" stroke-width="5"/>
<text x="1236.83" y="1120.1" font-size="29" textLength="32.64" lengthAdjust="spacingAndGlyphs" fill="#000">20</text>
<line x1="1325.5" y1="1081.4" x2="1325.5" y2="1090.5" stroke="#333333" stroke-width="5"/>
<text x="1301.73" y="1120.1" font-size="29" textLength="31.81" lengthAdjust="spacingAndGlyphs" fill="#000">30</text>
<line x1="1389.2" y1="1081.4" x2="1389.2" y2="1090.5" stroke="#333333" stroke-width="5"/>
<text x="1364.24" y="1120.1" font-size="29" textLength="32.42" lengthAdjust="spacingAndGlyphs" fill="#000">40</text>
<line x1="1452.8" y1="1081.4" x2="1452.8" y2="1090.5" stroke="#333333" stroke-width="5"/>
<text x="1428.85" y="1120.1" font-size="29" textLength="32" lengthAdjust="spacingAndGlyphs" fill="#000">50</text>
<rect x="1621.8" y="755.2" width="279.6" height="323.9" fill="#fff"/>
<line x1="1634.5" y1="755.2" x2="1634.5" y2="1079.1" stroke="#EBEBEB" stroke-width="4.7"/>
<line x1="1698.4" y1="755.2" x2="1698.4" y2="1079.1" stroke="#EBEBEB" stroke-width="4.7"/>
<line x1="1761.8" y1="755.2" x2="1761.8" y2="1079.1" stroke="#EBEBEB" stroke-width="4.7"/>
<line x1="1825.4" y1="755.2" x2="1825.4" y2="1079.1" stroke="#EBEBEB" stroke-width="4.7"/>
<line x1="1888.8" y1="755.2" x2="1888.8" y2="1079.1" stroke="#EBEBEB" stroke-width="4.7"/>
<line x1="1621.8" y1="770.2" x2="1901.4" y2="770.2" stroke="#EBEBEB" stroke-width="4.7"/>
<line x1="1621.8" y1="843.7" x2="1901.4" y2="843.7" stroke="#EBEBEB" stroke-width="4.7"/>
<line x1="1621.8" y1="917.2" x2="1901.4" y2="917.2" stroke="#EBEBEB" stroke-width="4.7"/>
<line x1="1621.8" y1="990.7" x2="1901.4" y2="990.7" stroke="#EBEBEB" stroke-width="4.7"/>
<line x1="1621.8" y1="1064.2" x2="1901.4" y2="1064.2" stroke="#EBEBEB" stroke-width="4.7"/>
<path d="M1634.5,868 L1698.4,840.9 L1761.8,823.7 L1825.4,810.1 L1888.8,799.6" fill="none" stroke="#E78AC3" stroke-width="14.2" stroke-linejoin="round"/>
<path d="M1634.5,917.1 L1698.4,917.1 L1761.8,917.1 L1825.4,917.1 L1888.8,917.1" fill="none" stroke="#FC8D62" stroke-width="6.8" stroke-dasharray="26.88 26.88" stroke-linejoin="round"/>
<path d="M1634.5,952.3 L1698.4,949.5 L1761.8,940.6 L1825.4,940.6 L1888.8,940.6" fill="none" stroke="#66C2A5" stroke-width="6.8" stroke-dasharray="47.04 20.16" stroke-linejoin="round"/>
<path d="M1634.5,931.9 L1698.4,922.7 L1761.8,920 L1825.4,914.1 L1888.8,911" fill="none" stroke="#8DA0CB" stroke-width="6.8" stroke-dasharray="47.04 20.16" stroke-linejoin="round"/>
<path d="M1634.5,878.5 L1698.4,856 L1761.8,840.5 L1825.4,831.8 L1888.8,820.2" fill="none" stroke="#A6D854" stroke-width="6.8" stroke-dasharray="47.04 20.16" stroke-linejoin="round"/>
<rect x="1621.8" y="755.2" width="279.6" height="323.9" fill="none" stroke="#333333" stroke-width="4.9"/>
<line x1="1610" y1="770.2" x2="1619.5" y2="770.2" stroke="#333333" stroke-width="5"/>
<text x="1549.11" y="786.1" font-size="29" textLength="54.28" lengthAdjust="spacingAndGlyphs" fill="#000">1.00</text>
<line x1="1610" y1="843.7" x2="1619.5" y2="843.7" stroke="#333333" stroke-width="5"/>
<text x="1550.1" y="859.6" font-size="29" textLength="53.33" lengthAdjust="spacingAndGlyphs" fill="#000">0.75</text>
<line x1="1610" y1="917.2" x2="1619.5" y2="917.2" stroke="#333333" stroke-width="5"/>
<text x="1550.11" y="933.1" font-size="29" textLength="53.26" lengthAdjust="spacingAndGlyphs" fill="#000">0.50</text>
<line x1="1610" y1="990.7" x2="1619.5" y2="990.7" stroke="#333333" stroke-width="5"/>
<text x="1550.1" y="1006.6" font-size="29" textLength="53.33" lengthAdjust="spacingAndGlyphs" fill="#000">0.25</text>
<line x1="1610" y1="1064.2" x2="1619.5" y2="1064.2" stroke="#333333" stroke-width="5"/>
<text x="1550.11" y="1080.1" font-size="29" textLength="53.26" lengthAdjust="spacingAndGlyphs" fill="#000">0.00</text>
<line x1="1634.5" y1="1081.4" x2="1634.5" y2="1090.5" stroke="#333333" stroke-width="5"/>
<text x="1618.19" y="1120.1" font-size="29" textLength="31.34" lengthAdjust="spacingAndGlyphs" fill="#000">10</text>
<line x1="1698.4" y1="1081.4" x2="1698.4" y2="1090.5" stroke="#333333" stroke-width="5"/>
<text x="1680.56" y="1120.1" font-size="29" textLength="32.09" lengthAdjust="spacingAndGlyphs" fill="#000">20</text>
<line x1="1761.8" y1="1081.4" x2="1761.8" y2="1090.5" stroke="#333333" stroke-width="5"/>
<text x="1745.03" y="1120.1" font-size="29" textLength="31.7" lengthAdjust="spacingAndGlyphs" fill="#000">30</text>
<line x1="1825.4" y1="1081.4" x2="1825.4" y2="1090.5" stroke="#333333" stroke-width="5"/>
<text x="1807.65" y="1120.1" font-size="29" textLength="31.89" lengthAdjust="spacingAndGlyphs" fill="#000">40</text>
<line x1="1888.8" y1="1081.4" x2="1888.8" y2="1090.5" stroke="#333333" stroke-width="5"/>
<text x="1871.86" y="1120.1" font-size="29" textLength="31.78" lengthAdjust="spacingAndGlyphs" fill="#000">50</text>
<text transform="translate(1094.4 1017) rotate(-90)" x="-2.92" y="0" font-size="35" textLength="145.37" lengthAdjust="spacingAndGlyphs" fill="#000">Bag AUC</text>
<text transform="translate(1537.8 1048) rotate(-90)" x="-3.25" y="0" font-size="35" textLength="215.16" lengthAdjust="spacingAndGlyphs" fill="#000">Instance AUC</text>
<text x="1188.27" y="1178.2" font-size="34.6" textLength="561.93" lengthAdjust="spacingAndGlyphs" fill="#000">Label Frequency (% positive labels)</text>
<line x1="1188.6" y1="1231.5" x2="1248.3" y2="1231.5" stroke="#E78AC3" stroke-width="14.6"/>
<line x1="1413" y1="1231.5" x2="1473" y2="1231.5" stroke="#FC8D62" stroke-width="7" stroke-dasharray="26.88 26.88"/>
<line x1="1578.3" y1="1231.5" x2="1638.3" y2="1231.5" stroke="#66C2A5" stroke-width="7" stroke-dasharray="47.04 20.16"/>
<line x1="1713.6" y1="1231.5" x2="1773.6" y2="1231.5" stroke="#8DA0CB" stroke-width="7" stroke-dasharray="47.04 20.16"/>
<line x1="1889" y1="1231.5" x2="1949" y2="1231.5" stroke="#A6D854" stroke-width="7" stroke-dasharray="47.04 20.16"/>
<text x="1278.53" y="1245.2" font-size="38.7" textLength="116.08" lengthAdjust="spacingAndGlyphs" fill="#000">pum6a</text>
<text x="1488.59" y="1245.3" font-size="38.7" textLength="77.19" lengthAdjust="spacingAndGlyphs" fill="#000">puIF</text>
<text x="1635.77" y="1245.3" font-size="38.7" textLength="60.63" lengthAdjust="spacingAndGlyphs" fill="#000">iAE</text>
<text x="1773.81" y="1245.3" font-size="38.7" textLength="95.96" lengthAdjust="spacingAndGlyphs" fill="#000">puma</text>
<text x="1947.31" y="1245.3" font-size="38.7" fill="#000">RF</text>
</g>
</svg>
</body></html>
